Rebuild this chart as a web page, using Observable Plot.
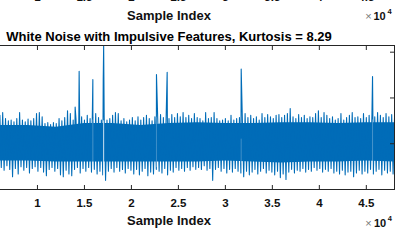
<!DOCTYPE html>
<html>
<head>
<meta charset="utf-8">
<script src="https://cdn.jsdelivr.net/npm/d3@7"></script>
<script src="https://cdn.jsdelivr.net/npm/@observablehq/plot@0.6"></script>
<style>
  html, body { margin: 0; padding: 0; background: #fff; overflow: hidden; width: 400px; height: 250px; }
  #fig { position: absolute; left: -57px; top: 0; }
</style>
</head>
<body>
<div id="fig"></div>
<script>
// ---- data ----
const title = "White Noise with Impulsive Features, Kurtosis = 8.29";
const xLabel = "Sample Index";
const xTicks = [10000, 15000, 20000, 25000, 30000, 35000, 40000, 45000];
const yTicks = [-5, 0, 5, 10];
const xDomain = [0, 48000];
const yDomain = [-5, 10.73];

// solid core of the noise band, read every 3000 samples from 6000
const coreIdx = [6000, 9000, 12000, 15000, 18000, 21000, 24000, 27000, 30000, 33000, 36000, 39000, 42000, 45000, 48000];
const coreTop = [2.0, 2.0, 1.8, 2.2, 2.2, 2.0, 2.2, 2.3, 2.2, 2.2, 2.3, 2.3, 2.2, 2.3, 2.3];
const coreBot = [-1.9, -1.9, -2.0, -2.0, -2.0, -2.0, -2.0, -2.0, -1.9, -2.0, -2.1, -2.0, -2.0, -1.9, -2.0];

// envelope of the noise band (local maxima / minima), sampled every 300 samples from 6000
const gridStart = 6000;
const gridStep = 300;
const upper = [3.1,3.4,2.75,2.5,2.6,2.4,2.75,3.4,2.6,2.4,2.7,2.5,2.75,3.3,3.4,2.95,2.2,2.3,2.1,2.3,
  2.2,2.75,2.5,2.85,3.6,3.3,2.6,2.7,2.5,2.95,2.6,3.1,2.75,2.85,3.3,2.85,2.6,2.95,2.6,2.75,
  3.1,3.4,3.3,2.5,2.75,2.4,2.6,2.85,2.5,2.95,2.6,2.85,3.1,2.75,2.5,2.95,2.75,3.2,2.85,3.1,
  2.75,3.2,2.85,3.3,2.95,3.4,2.85,3.1,2.75,3.3,2.85,2.75,2.5,3.4,2.75,2.85,3.4,2.75,2.5,2.6,
  2.75,2.5,3.1,2.6,2.75,2.85,2.95,3.3,2.85,3.1,2.75,2.95,2.6,3.3,2.85,3.2,2.95,2.75,3.1,3.2,
  2.85,3.1,3.3,3.85,2.95,2.75,3.2,2.85,3.1,2.75,2.95,2.85,3.3,3.6,2.85,3.4,3.1,2.75,2.95,2.6,
  2.75,3.3,2.6,2.85,3.1,3.4,2.85,2.95,2.75,3.3,2.85,3.1,3.2,2.95,3.4,3.1,2.85,3.3,2.95,3.2,2.75];
const lower = [-2.6,-2.9,-2.4,-2.8,-3.6,-2.7,-3.3,-2.5,-2.9,-2.6,-3.2,-2.7,-2.5,-3.0,-2.6,-3.1,-3.5,-2.8,-2.6,-3.0,
  -2.7,-3.4,-3.6,-2.9,-3.3,-3.5,-2.8,-2.6,-3.2,-2.7,-3.0,-2.6,-3.1,-2.8,-3.3,-3.0,-3.4,-4.0,-3.0,-2.7,
  -3.1,-2.6,-3.0,-2.8,-3.2,-2.7,-2.9,-3.3,-2.8,-3.4,-3.0,-2.7,-3.5,-3.1,-3.3,-2.8,-3.0,-3.2,-2.7,-3.4,
  -2.9,-3.1,-2.6,-2.9,-2.7,-3.0,-2.6,-2.9,-2.5,-2.8,-2.6,-2.8,-2.4,-2.9,-2.7,-4.0,-2.8,-2.6,-3.0,-2.7,
  -3.2,-2.8,-3.1,-2.7,-3.0,-3.2,-3.6,-3.0,-3.4,-3.1,-2.8,-3.3,-3.0,-2.7,-3.2,-2.9,-3.1,-3.4,-3.0,-3.7,
  -3.3,-3.9,-3.1,-2.8,-3.2,-2.9,-3.0,-2.7,-3.1,-2.8,-3.0,-2.6,-2.9,-2.7,-3.1,-2.8,-3.0,-2.7,-3.2,-3.0,
  -3.3,-2.9,-3.4,-3.1,-3.0,-3.6,-3.2,-2.9,-3.3,-3.0,-3.2,-2.8,-3.3,-3.0,-2.8,-3.4,-2.9,-3.2,-3.0,-3.3,-2.9];

// impulsive features
const spikeIdx = [14010, 14436, 15895, 17000, 17045, 22666, 23805, 31683, 45662];
const spikeVal = [4.0, 7.9, 7.0, 6.9, 10.73, 7.55, 7.8, 8.15, 7.35];
// light render gaps seen in the band at impulse positions
const gapIdx = [17045, 15895, 22666, 31683, 45662];
const gapTop = [2.5, 2.6, 2.9, 0.5, 2.6];
const gapBot = [-3.8, -3.0, -2.6, -2.2, -3.9];
const gapOpacity = [1, 0.35, 0.3, 0.3, 0.35];

// ---- build series ----
const pts = [];
upper.forEach((v, i) => pts.push({ i: gridStart + i * gridStep, v }));
lower.forEach((v, i) => pts.push({ i: gridStart + i * gridStep + gridStep / 2, v }));
spikeIdx.forEach((s, k) => pts.push({ i: s, v: spikeVal[k] }));
pts.sort((a, b) => a.i - b.i);

const core = coreIdx.map((c, k) => ({ i: c, t: coreTop[k], b: coreBot[k] }));
const gaps = gapIdx.map((g, k) => ({ i: g, t: gapTop[k], b: gapBot[k], o: gapOpacity[k] }));

const blue = "#006cb8";
const axisCol = "#262626";
const font = "'Liberation Sans', Arial, Helvetica, sans-serif";

const chart = Plot.plot({
  width: 457,
  height: 250,
  marginLeft: 0,
  marginRight: 6,
  marginTop: 45,
  marginBottom: 61,
  style: { fontFamily: font, background: "#fff", overflow: "visible" },
  x: { domain: xDomain, axis: null },
  y: { domain: yDomain, axis: null },
  marks: [
    Plot.areaY(core, { x: "i", y1: "b", y2: "t", fill: blue, clip: true }),
    Plot.line(pts, { x: "i", y: "v", stroke: blue, strokeWidth: 1.1, clip: true }),
    Plot.ruleX(gaps, { x: "i", y1: "b", y2: "t", stroke: "#fff", strokeOpacity: "o", strokeWidth: 0.8 }),
    Plot.frame({ stroke: axisCol, strokeWidth: 1 }),
    // inward tick marks
    Plot.ruleX(xTicks, { x: d => d, insetTop: 140, stroke: axisCol }),
    Plot.ruleX(xTicks, { x: d => d, insetBottom: 139, stroke: axisCol }),
    Plot.ruleY(yTicks, { y: d => d, insetLeft: 447, stroke: axisCol }),
    // tick labels
    Plot.text(xTicks, { x: d => d, frameAnchor: "bottom", dy: 17.7, lineAnchor: "bottom",
      text: d => String(d / 1e4), fontSize: 11.5, fontWeight: "bold", fill: "#111" }),
    // x label and exponent
    Plot.text([xLabel], { frameAnchor: "bottom", dy: 35, lineAnchor: "bottom", text: d => d,
      fontSize: 13, fontWeight: "bold", fill: "#111" }),
    Plot.text(["×"], { frameAnchor: "bottom-right", dx: -26, dy: 37, lineAnchor: "bottom", textAnchor: "middle",
      text: d => d, fontSize: 11, fill: "#777" }),
    Plot.text(["10"], { frameAnchor: "bottom-right", dx: -20.5, dy: 37, lineAnchor: "bottom", textAnchor: "start",
      text: d => d, fontSize: 11, fontWeight: "bold", fill: "#111" }),
    Plot.text(["4"], { frameAnchor: "bottom-right", dx: -6.7, dy: 31.3, lineAnchor: "bottom", textAnchor: "start",
      text: d => d, fontSize: 7.5, fontWeight: "bold", fill: "#111" }),
    // title
    Plot.text([title], { frameAnchor: "top", dy: -4.5, lineAnchor: "bottom", text: d => d,
      fontSize: 13, fontWeight: "bold", fill: "#000" }),
    // remains of the subplot above (its tick labels, x label and exponent)
    Plot.text(xTicks, { x: d => d, frameAnchor: "top", dy: 0.5 - 45, lineAnchor: "bottom",
      text: d => String(d / 1e4), fontSize: 11.5, fontWeight: "bold", fill: "#111" }),
    Plot.text([xLabel], { frameAnchor: "top", dy: 19 - 45, lineAnchor: "bottom", text: d => d,
      fontSize: 13, fontWeight: "bold", fill: "#111" }),
    Plot.text(["×"], { frameAnchor: "top-right", dx: -26, dy: 19.3 - 45, lineAnchor: "bottom", textAnchor: "middle",
      text: d => d, fontSize: 11, fill: "#777" }),
    Plot.text(["10"], { frameAnchor: "top-right", dx: -21, dy: 19.3 - 45, lineAnchor: "bottom", textAnchor: "start",
      text: d => d, fontSize: 11, fontWeight: "bold", fill: "#111" }),
    Plot.text(["4"], { frameAnchor: "top-right", dx: -7, dy: 13.5 - 45, lineAnchor: "bottom", textAnchor: "start",
      text: d => d, fontSize: 7.5, fontWeight: "bold", fill: "#111" })
  ]
});
document.getElementById("fig").appendChild(chart);
</script>
</body>
</html>
